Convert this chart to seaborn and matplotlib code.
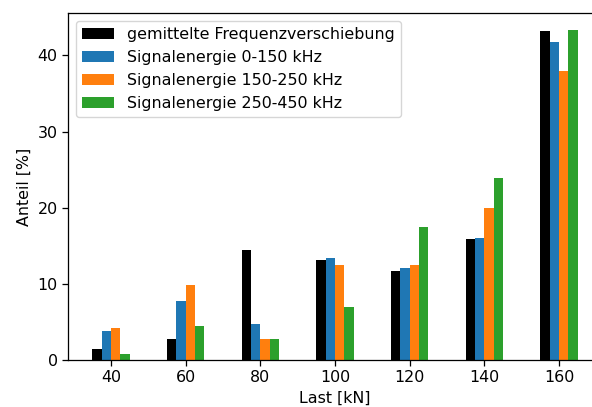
import numpy as np
import pandas as pd
import seaborn as sns
import matplotlib
matplotlib.use("Agg")
import matplotlib.pyplot as plt

last = [40, 60, 80, 100, 120, 140, 160]
serien = ["gemittelte Frequenzverschiebung",
          "Signalenergie 0-150 kHz",
          "Signalenergie 150-250 kHz",
          "Signalenergie 250-450 kHz"]
freq_shift = [1.5, 2.75, 14.5, 13.1, 11.75, 15.9, 43.2]
energie_0_150 = [3.85, 7.8, 4.7, 13.35, 12.05, 16.05, 41.7]
energie_150_250 = [4.2, 9.85, 2.75, 12.45, 12.45, 19.9, 37.9]
energie_250_450 = [0.8, 4.4, 2.7, 6.9, 17.5, 23.95, 43.4]

df = pd.DataFrame({
    "Last [kN]": last * 4,
    "Anteil [%]": freq_shift + energie_0_150 + energie_150_250 + energie_250_450,
    "Serie": np.repeat(serien, len(last)),
})

# original was rendered at a higher dpi, scale everything by ~1.14
s = 1.14
plt.rcParams.update({
    "font.size": 10 * s,
    "axes.linewidth": 0.8 * s,
    "xtick.major.size": 3.5 * s,
    "ytick.major.size": 3.5 * s,
    "xtick.major.width": 0.8 * s,
    "ytick.major.width": 0.8 * s,
})

fig = plt.figure(figsize=(5.92, 4.07), dpi=100)
ax = fig.add_axes([0.1149, 0.1155, 0.902, 0.8526])

sns.barplot(data=df, x="Last [kN]", y="Anteil [%]", hue="Serie",
            palette=["black", "#1f77b4", "#ff7f0e", "#2ca02c"],
            saturation=1, width=0.5, errorbar=None, linewidth=0,
            ax=ax)

ax.set_xlim(-0.575, 6.575)
ax.set_ylim(0, 43.4 * 1.05)
ax.legend(loc="upper left", title=None)

fig.savefig("out.png", dpi=100)
